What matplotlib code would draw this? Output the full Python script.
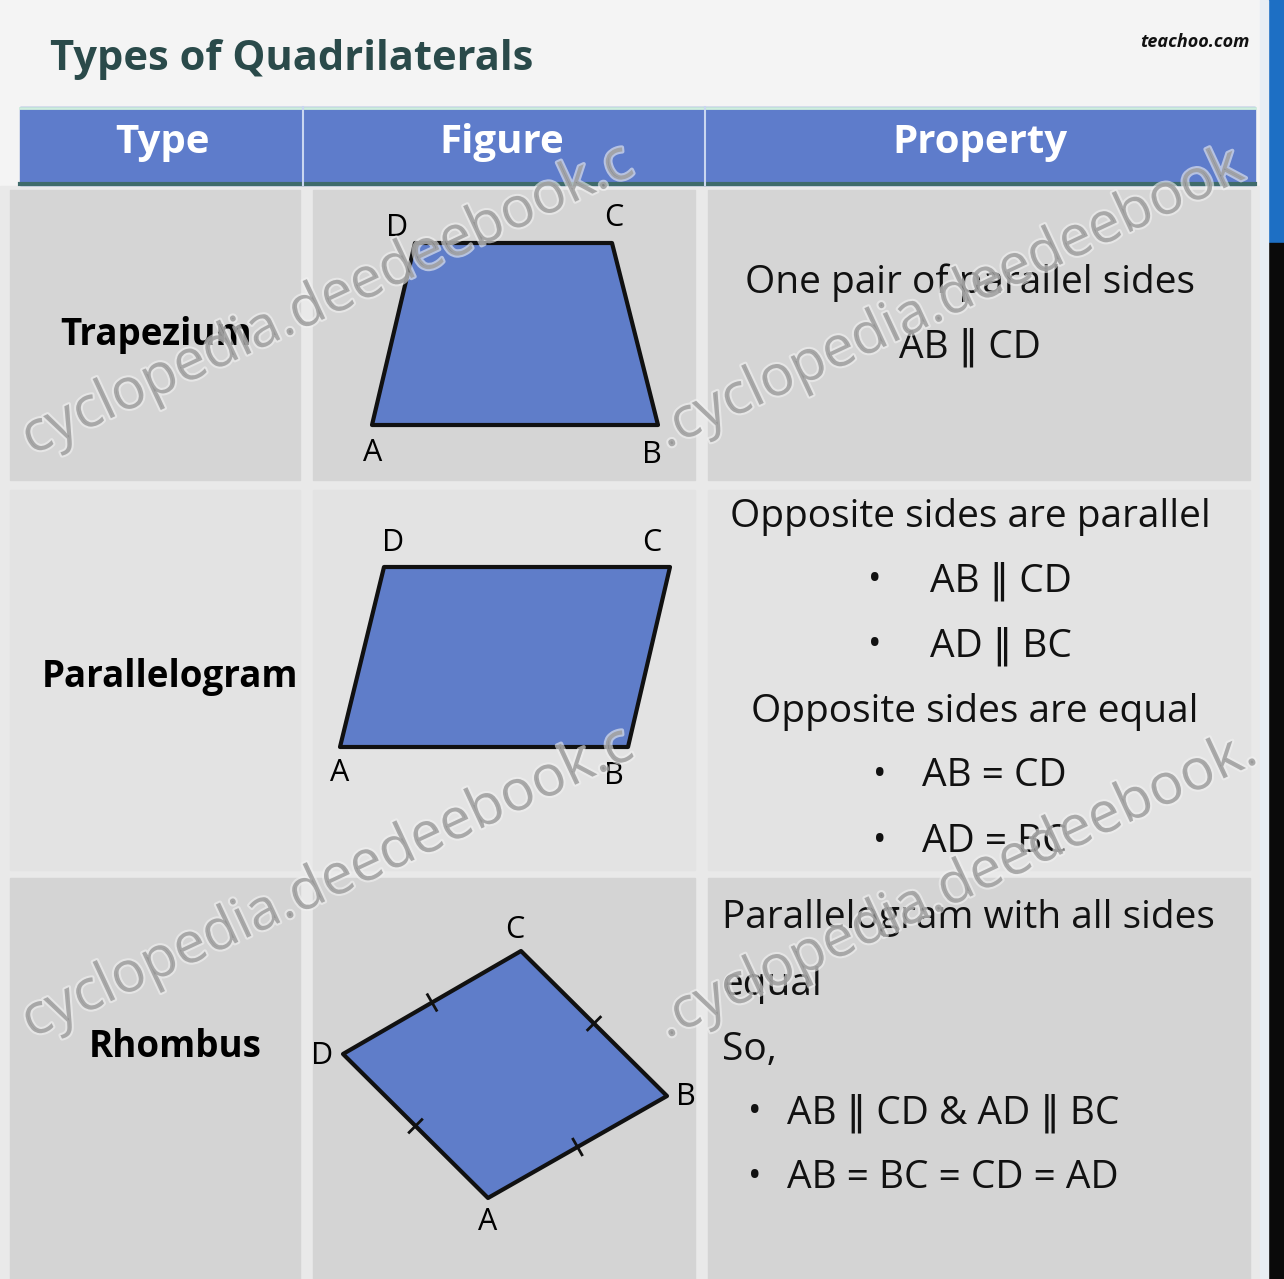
import matplotlib.pyplot as plt
from matplotlib.patches import Rectangle, Polygon
import matplotlib.patheffects as pe

plt.rcParams['font.family'] = ['Open Sans', 'DejaVu Sans']

# table content
title = 'Types of Quadrilaterals'
site = 'teachoo.com'
headers = ['Type', 'Figure', 'Property']
types = ['Trapezium', 'Parallelogram', 'Rhombus']
type_pos = [(156, 335), (170, 677), (175, 1047)]
header_x = [162, 502, 980]

# figure vertices (A, B, C, D) in pixels
trapezium = [(372, 425), (658, 425), (612, 243), (415, 243)]
parallelogram = [(340, 747), (628, 747), (670, 567), (384, 567)]
rhombus = [(488, 1198), (667, 1096), (521, 951), (343, 1054)]

# vertex label positions, same order A, B, C, D
trap_labels = [(373, 453), (652, 455), (614, 218), (397, 228)]
para_labels = [(340, 773), (614, 776), (652, 543), (393, 543)]
rhom_labels = [(488, 1222), (686, 1097), (515, 930), (322, 1056)]
vertex_names = ['A', 'B', 'C', 'D']

PAR = '\u2016'

# property texts: (text, x, y, align)
trap_props = [('One pair of parallel sides', 970, 283, 'center'),
			  (f'AB {PAR} CD', 970, 347, 'center')]
para_props = [('Opposite sides are parallel', 970, 517, 'center'),
			  ('•', 875, 581, 'center'), (f'AB {PAR} CD', 930, 581, 'left'),
			  ('•', 875, 646, 'center'), (f'AD {PAR} BC', 930, 646, 'left'),
			  ('Opposite sides are equal', 975, 712, 'center'),
			  ('•', 880, 776, 'center'), ('AB = CD', 922, 776, 'left'),
			  ('•', 880, 842, 'center'), ('AD = BC', 922, 842, 'left')]
rhom_props = [('Parallelogram with all sides', 722, 918, 'left'),
			  ('equal', 722, 985, 'left'),
			  ('So,', 722, 1050, 'left'),
			  ('•', 755, 1113, 'center'), (f'AB {PAR} CD & AD {PAR} BC', 787, 1113, 'left'),
			  ('•', 755, 1178, 'center'), ('AB = BC = CD = AD', 787, 1178, 'left')]

W, H = 1284, 1279

fig = plt.figure(figsize = (W / 100, H / 100), dpi = 100)
fig.patch.set_facecolor('#f4f4f4')
ax = fig.add_axes([0, 0, 1, 1])
ax.set_xlim(0, W)
ax.set_ylim(H, 0)
ax.axis('off')

# right side strip
ax.add_patch(Rectangle((1268, 0), 16, 243, color = '#1d6fc4', zorder = 1))
ax.add_patch(Rectangle((1268, 243), 16, H - 243, color = '#0a0a0a', zorder = 1))
ax.add_patch(Rectangle((1260, 0), 8, H, color = '#e8eef4', zorder = 1))

# header
ax.add_patch(Rectangle((20, 107), 1235, 78, color = '#5e7ccb', zorder = 1))
ax.plot([20, 1255], [184, 184], color = '#3f6b6b', lw = 3, zorder = 2)
ax.plot([20, 1255], [108, 108], color = '#cfeedd', lw = 2, zorder = 2)
for xv in [303, 705]:
	ax.plot([xv, xv], [107, 185], color = '#c9d6f0', lw = 1.5, zorder = 2)

col_x = [(10, 300), (313, 695), (708, 1250)]
row_y = [(190, 480), (490, 870), (878, 1279)]
row_col = ['#d5d5d5', '#e3e3e3', '#d4d4d4']

ax.add_patch(Rectangle((0, 186), 1260, H - 186, color = '#e9e9e9', zorder = 0.5))
for (y0, y1), c in zip(row_y, row_col):
	for x0, x1 in col_x:
		ax.add_patch(Rectangle((x0, y0), x1 - x0, y1 - y0, color = c, zorder = 1))

ax.text(50, 60, title, fontsize = 30, fontweight = 'bold', color = '#2a4a4a',
		ha = 'left', va = 'center', zorder = 5)
ax.text(1250, 42, site, fontsize = 13, fontweight = 'bold', style = 'italic',
		color = '#111111', ha = 'right', va = 'center', zorder = 5)

for h, xc in zip(headers, header_x):
	ax.text(xc, 143, h, fontsize = 29, fontweight = 'bold',
			color = 'white', ha = 'center', va = 'center', zorder = 5)

for name, (xc, yc) in zip(types, type_pos):
	ax.text(xc, yc, name, fontsize = 26.5, fontweight = 'bold',
			ha = 'center', va = 'center', zorder = 5)

# figures
for verts, labels in [(trapezium, trap_labels), (parallelogram, para_labels), (rhombus, rhom_labels)]:
	ax.add_patch(Polygon(verts, closed = True, facecolor = '#5f7dc9',
						 edgecolor = '#111111', lw = 3, joinstyle = 'round', zorder = 3))
	for name, (lx, ly) in zip(vertex_names, labels):
		ax.text(lx, ly, name, fontsize = 22, ha = 'center', va = 'center', zorder = 5)

# equal-side tick marks on the rhombus
for i in range(4):
	(x0, y0), (x1, y1) = rhombus[i], rhombus[(i + 1) % 4]
	mx, my = (x0 + x1) / 2, (y0 + y1) / 2
	dx, dy = x1 - x0, y1 - y0
	n = (dx * dx + dy * dy) ** 0.5
	px, py = -dy / n * 9, dx / n * 9
	ax.plot([mx - px, mx + px], [my - py, my + py], color = '#111111', lw = 2, zorder = 4)

for props in [trap_props, para_props, rhom_props]:
	for txt, x, y, al in props:
		if txt == '•':
			ax.text(x, y, txt, fontsize = 26, ha = al,
					va = 'center', color = '#111111', zorder = 5)
		else:
			ax.text(x, y, txt, fontsize = 28, ha = al, va = 'center',
					color = '#111111', zorder = 5)

# watermark
wm = dict(fontsize = 41, color = '#8c8c8c', alpha = 0.6, rotation = 25,
		  ha = 'left', va = 'center', rotation_mode = 'anchor', zorder = 6,
		  path_effects = [pe.withStroke(linewidth = 3, foreground = '#f2f2f2', alpha = 0.6)])
ax.text(25, 442, 'cyclopedia.deedeebook.c', **wm)
ax.text(660, 435, '.cyclopedia.deedeebook', **wm)
ax.text(25, 1025, 'cyclopedia.deedeebook.c', **wm)
ax.text(660, 1025, '.cyclopedia.deedeebook.', **wm)

fig.savefig('out.png', dpi = 100, facecolor = fig.get_facecolor())
